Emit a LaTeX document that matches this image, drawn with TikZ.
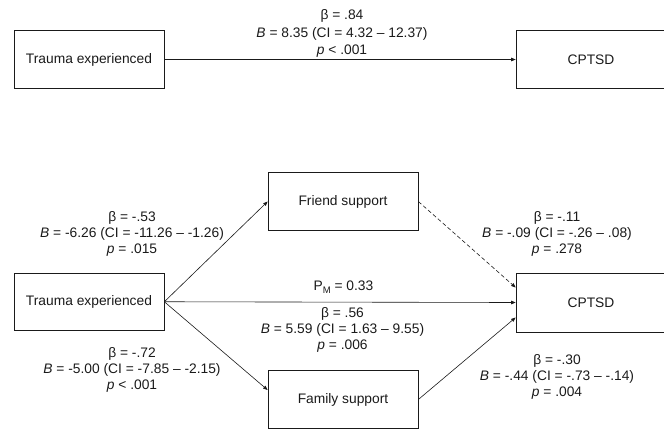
\documentclass[tikz,border=0pt]{standalone}
\usepackage{fontspec}
\setmainfont{Liberation Sans}
\usetikzlibrary{arrows.meta}
\definecolor{ink}{HTML}{1A1A1A}
\begin{document}
\begin{tikzpicture}[x=1pt,y=-1pt,
  box/.style={draw=ink,line width=0.7pt,fill=white,minimum width=150pt,minimum height=58pt,inner sep=0pt,text=ink,font=\fontsize{13.8}{16.5}\selectfont},
  lbl/.style={align=center,text=ink,inner sep=0pt,font=\fontsize{13.8}{16.3}\selectfont},
  toplbl/.style={lbl,font=\fontsize{13.8}{17.5}\selectfont},
  arr/.style={draw=ink,line width=0.6pt,-{Triangle[length=4.5pt,width=3.5pt]}}]
\useasboundingbox (0,0) rectangle (664,429);
\clip (0,0) rectangle (664,429);
% top model
\node[box,minimum width=150pt,minimum height=57.5pt] (t1) at (89,59.5) {Trauma experienced};
\node[box,minimum width=156pt,minimum height=57.5pt] (c1) at (594,59.5) {};
\node[text=ink,font=\fontsize{13.8}{16.5}\selectfont] (c1t) at (591,59.5) {CPTSD};
\draw[arr] (t1.east) -- (c1.west);
\node[toplbl] (l1) at (342,33.5) {β = .84\\ \textit{B} = 8.35 (CI = 4.32 – 12.37)\\ \textit{p} < .001};
% bottom model
\node[box,minimum width=150pt,minimum height=57.5pt] (t2) at (89,301.75) {Trauma experienced};
\node[box] (fr) at (343,201.5) {Friend support};
\node[box,minimum height=57.5pt] (fa) at (343,399.5) {Family support};
\node[box,minimum width=156pt,minimum height=59pt] (c2) at (594,302.5) {};
\node[text=ink,font=\fontsize{13.8}{16.5}\selectfont] (c2t) at (591,302.5) {CPTSD};
\draw[arr] (t2.east) -- (fr.west);
\draw[arr] (t2.east) -- ([yshift=9.5pt]fa.west);
\draw[arr] (t2.east) -- (c2.west);
\draw[arr,dashed,dash pattern=on 4pt off 2.5pt] (fr.east) -- ([yshift=15pt]c2.west);
\draw[arr] (fa.east) -- ([yshift=-15pt]c2.west);
\node[lbl] (la) at (132,234) {β = -.53\\ \textit{B} = -6.26 (CI = -11.26 – -1.26)\\ \textit{p} = .015};
\node[lbl] (lb) at (132,370) {β = -.72\\ \textit{B} = -5.00 (CI = -7.85 – -2.15)\\ \textit{p} < .001};
\node[lbl] (lc) at (557,234) {β = -.11\\ \textit{B} = -.09 (CI = -.26 – .08)\\ \textit{p} = .278};
\node[lbl] (ld) at (557,377) {β = -.30\\ \textit{B} = -.44 (CI = -.73 – -.14)\\ \textit{p} = .004};
\node[lbl] (pm) at (343.5,287) {P\raisebox{-0.45ex}{\fontsize{9.5}{10}\selectfont M} = 0.33};
\node[lbl] (le) at (342.5,330) {β = .56\\ \textit{B} = 5.59 (CI = 1.63 – 9.55)\\ \textit{p} = .006};
\end{tikzpicture}
\end{document}
